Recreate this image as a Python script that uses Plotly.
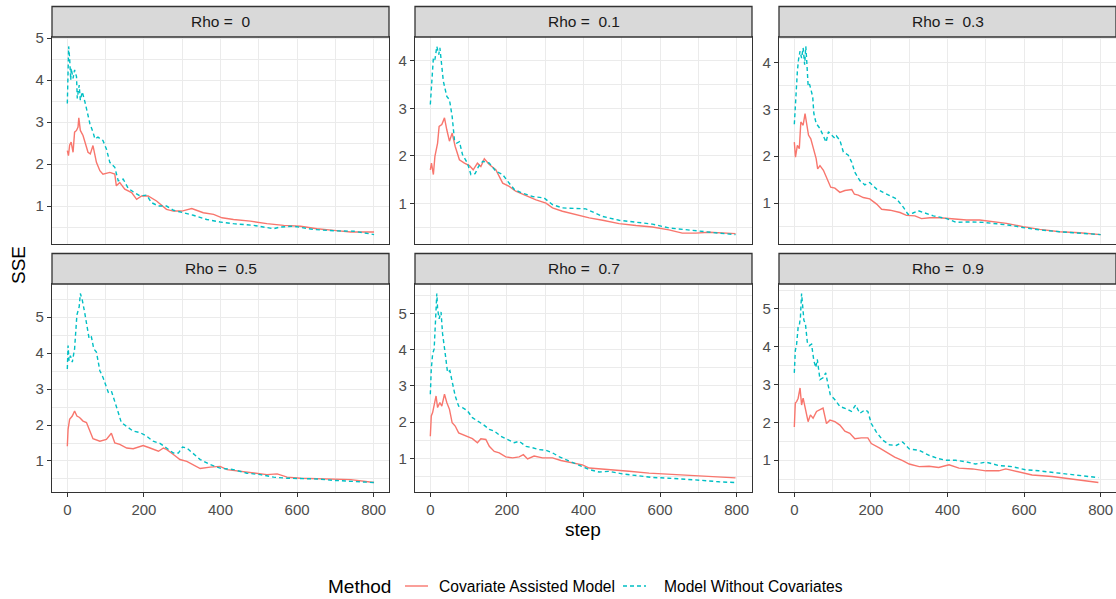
import plotly.graph_objects as go

# ---- data: SSE by step for each Rho, two methods ----
rho_labels = ["0", "0.1", "0.3", "0.5", "0.7", "0.9"]

# Rho = 0
cov_step_r0 = [0, 3, 6, 10, 15, 19, 24, 28, 30, 34, 41, 48, 54, 60, 67, 76, 85, 93, 102, 111, 124, 128, 137, 150,
               168, 181, 194, 211, 233, 259, 277, 299, 325, 355, 382, 404, 434, 478, 521, 565, 609, 652, 696, 740, 801]
cov_sse_r0 = [2.32, 2.2, 2.45, 2.52, 2.28, 2.76, 2.8, 2.88, 3.1, 2.8, 2.68, 2.45, 2.28, 2.24, 2.44, 2.04, 1.84, 1.76,
              1.78, 1.8, 1.76, 1.48, 1.56, 1.4, 1.32, 1.16, 1.24, 1.24, 1.12, 0.92, 0.88, 0.88, 0.94, 0.84, 0.8, 0.72,
              0.68, 0.64, 0.58, 0.54, 0.52, 0.46, 0.42, 0.38, 0.38]
nocov_step_r0 = [0, 2, 3.5, 6, 9, 10, 15, 19, 24, 26, 31, 34, 39, 46, 52, 59, 67, 72, 80, 93, 102, 111, 124, 133,
                 146, 159, 172, 190, 207, 220, 238, 259, 277, 303, 329, 364, 399, 434, 486, 539, 556, 591, 644, 696,
                 749, 801]
nocov_sse_r0 = [3.44, 4.36, 4.8, 4.52, 4.0, 4.28, 4.04, 4.24, 4.08, 3.56, 3.88, 3.52, 3.72, 3.48, 3.2, 2.96, 2.76,
                2.6, 2.64, 2.56, 2.36, 2.04, 1.92, 1.6, 1.64, 1.42, 1.34, 1.24, 1.26, 1.08, 1.0, 1.0, 0.9, 0.84, 0.78,
                0.68, 0.62, 0.58, 0.54, 0.46, 0.5, 0.52, 0.44, 0.41, 0.4, 0.32]

# Rho = 0.1
cov_step_r1 = [0, 3, 8, 12, 19, 23, 30, 37, 43, 50, 57, 65, 76, 89, 102, 112, 123, 132, 141, 154, 171, 189, 206,
               223, 250, 276, 302, 319, 345, 380, 415, 450, 493, 537, 580, 623, 658, 693, 728, 797]
cov_sse_r1 = [1.71, 1.85, 1.61, 1.99, 2.27, 2.62, 2.66, 2.8, 2.55, 2.31, 2.48, 2.2, 1.92, 1.85, 1.8, 1.71, 1.85,
              1.78, 1.94, 1.82, 1.71, 1.43, 1.36, 1.26, 1.17, 1.08, 1.01, 0.91, 0.84, 0.77, 0.7, 0.65, 0.58, 0.54,
              0.51, 0.45, 0.38, 0.38, 0.4, 0.37]
nocov_step_r1 = [0, 3, 8, 12, 17, 22, 25, 30, 34, 38, 43, 50, 57, 63, 69, 76, 84, 97, 106, 117, 126, 137, 154,
                 171, 189, 202, 220, 241, 267, 297, 319, 345, 380, 406, 450, 493, 537, 580, 623, 667, 710, 754, 797]
nocov_sse_r1 = [3.08, 3.53, 4.06, 4.02, 4.3, 4.13, 4.27, 3.88, 3.57, 3.43, 3.25, 3.18, 2.83, 2.34, 2.27, 2.3, 2.03,
                1.85, 1.61, 1.63, 1.78, 1.89, 1.85, 1.68, 1.61, 1.47, 1.29, 1.22, 1.15, 1.12, 0.98, 0.91, 0.89, 0.89,
                0.73, 0.65, 0.61, 0.57, 0.49, 0.45, 0.42, 0.38, 0.35]

# Rho = 0.3
cov_step_r3 = [0, 3, 8, 13, 17, 23, 28, 32, 37, 43, 50, 57, 61, 67, 76, 84, 95, 106, 119, 132, 150, 157, 167, 180,
               197, 215, 228, 250, 276, 293, 315, 332, 354, 380, 415, 450, 484, 519, 554, 597, 641, 693, 745, 800]
cov_sse_r3 = [2.3, 1.98, 2.23, 2.16, 2.73, 2.66, 2.91, 2.66, 2.45, 2.37, 2.16, 1.95, 1.73, 1.8, 1.7, 1.55, 1.34,
              1.32, 1.23, 1.27, 1.29, 1.19, 1.17, 1.12, 1.09, 0.98, 0.87, 0.85, 0.8, 0.74, 0.73, 0.67, 0.69, 0.69,
              0.67, 0.64, 0.64, 0.6, 0.57, 0.5, 0.44, 0.39, 0.37, 0.33]
nocov_step_r3 = [0, 2.5, 4.5, 8, 11, 15, 19, 23, 27, 30, 32, 36, 39, 43, 48, 51, 57, 67, 76, 83, 89, 97, 106, 110,
                 119, 128, 141, 150, 158, 171, 184, 197, 215, 232, 250, 267, 285, 297, 310, 323, 341, 363, 398, 423,
                 458, 493, 528, 563, 597, 641, 693, 745, 800]
nocov_sse_r3 = [2.68, 3.09, 3.52, 3.81, 4.06, 4.24, 4.09, 4.31, 3.95, 4.34, 4.09, 3.52, 3.56, 3.41, 3.27, 2.91,
                2.7, 2.59, 2.41, 2.3, 2.52, 2.45, 2.38, 2.43, 2.34, 2.09, 2.02, 1.87, 1.66, 1.48, 1.39, 1.44, 1.3,
                1.23, 1.16, 1.09, 0.91, 0.76, 0.79, 0.84, 0.79, 0.73, 0.67, 0.59, 0.6, 0.59, 0.56, 0.53, 0.48, 0.43,
                0.39, 0.36, 0.33]

# Rho = 0.5
cov_step_r5 = [0, 2, 6, 13, 19, 25, 32, 41, 50, 57, 67, 85, 102, 115, 124, 137, 155, 172, 198, 216, 238, 251, 259,
               277, 294, 312, 329, 347, 373, 399, 417, 452, 486, 521, 548, 574, 609, 653, 696, 740, 801]
cov_sse_r5 = [1.41, 1.88, 2.16, 2.25, 2.39, 2.25, 2.21, 2.11, 2.07, 1.88, 1.62, 1.55, 1.6, 1.77, 1.5, 1.46, 1.36,
              1.34, 1.43, 1.36, 1.27, 1.36, 1.32, 1.18, 1.04, 0.99, 0.9, 0.79, 0.83, 0.85, 0.76, 0.71, 0.66, 0.62,
              0.64, 0.55, 0.52, 0.51, 0.5, 0.48, 0.4]
nocov_step_r5 = [0, 2, 4.5, 8, 13, 19, 25, 31, 34, 39, 45, 52, 57, 63, 69, 76, 85, 93, 107, 115, 124, 133, 141, 155,
                 172, 190, 207, 224, 242, 259, 277, 290, 301, 312, 329, 347, 373, 399, 434, 469, 504, 539, 574, 609,
                 653, 696, 740, 801]
nocov_sse_r5 = [3.56, 4.21, 3.79, 3.93, 3.75, 4.12, 5.06, 5.29, 5.66, 5.48, 5.15, 4.73, 4.4, 4.45, 4.12, 4.03,
                3.51, 3.33, 2.91, 2.95, 2.67, 2.35, 2.07, 1.97, 1.83, 1.79, 1.69, 1.55, 1.49, 1.36, 1.22, 1.22, 1.39,
                1.36, 1.21, 1.04, 0.9, 0.8, 0.76, 0.66, 0.62, 0.55, 0.52, 0.52, 0.5, 0.46, 0.44, 0.4]

# Rho = 0.7
cov_step_r7 = [0, 2.5, 6, 10, 15, 19, 25, 30, 37, 43, 50, 57, 65, 74, 84, 97, 110, 123, 132, 145, 154, 167, 180,
               197, 215, 232, 243, 254, 271, 293, 319, 341, 363, 397, 415, 450, 484, 519, 571, 623, 676, 728, 797]
cov_sse_r7 = [1.61, 2.17, 2.26, 2.44, 2.72, 2.4, 2.54, 2.44, 2.77, 2.54, 2.35, 1.98, 1.89, 1.7, 1.66, 1.61, 1.54,
              1.43, 1.54, 1.52, 1.33, 1.19, 1.15, 1.04, 1.01, 1.04, 1.1, 0.98, 1.06, 1.01, 1.01, 0.94, 0.89, 0.82,
              0.73, 0.7, 0.69, 0.64, 0.59, 0.56, 0.54, 0.5, 0.46]
nocov_step_r7 = [0, 2.5, 6, 10, 13, 17, 19, 23, 28, 32, 39, 45, 51, 58, 65, 74, 84, 97, 110, 123, 137, 154, 167,
                 184, 202, 219, 232, 250, 267, 284, 302, 319, 337, 363, 389, 415, 441, 467, 501, 536, 580, 623, 667,
                 710, 754, 797]
nocov_sse_r7 = [2.77, 3.46, 3.88, 4.02, 4.67, 5.55, 5.13, 4.85, 5.04, 4.44, 3.88, 3.37, 3.42, 3.09, 2.72, 2.44,
                2.4, 2.31, 2.12, 2.03, 1.94, 1.8, 1.75, 1.61, 1.52, 1.43, 1.47, 1.33, 1.29, 1.24, 1.22, 1.15, 1.04,
                0.92, 0.8, 0.69, 0.62, 0.64, 0.57, 0.52, 0.47, 0.45, 0.43, 0.39, 0.35, 0.33]

# Rho = 0.9
cov_step_r9 = [0, 2.5, 6, 10, 15, 19, 23, 28, 36, 42, 49, 58, 67, 75, 84, 93, 106, 119, 132, 145, 158, 175, 192,
               201, 223, 240, 262, 283, 300, 326, 352, 377, 404, 430, 465, 500, 534, 552, 586, 621, 673, 725, 768,
               794]
cov_sse_r9 = [1.88, 2.51, 2.55, 2.64, 2.91, 2.46, 2.64, 2.38, 2.02, 2.2, 2.11, 2.29, 2.33, 2.38, 1.97, 2.06, 2.02,
              1.93, 1.77, 1.71, 1.57, 1.59, 1.59, 1.44, 1.32, 1.21, 1.08, 0.99, 0.9, 0.83, 0.84, 0.81, 0.88, 0.79,
              0.77, 0.72, 0.72, 0.77, 0.7, 0.61, 0.57, 0.5, 0.45, 0.41]
nocov_step_r9 = [0, 2.5, 6, 10, 13, 16, 19, 22, 25, 29, 34, 39, 45, 51, 56, 60, 67, 75, 82, 88, 94, 106, 119, 136,
                 149, 160, 171, 184, 192, 201, 214, 231, 248, 266, 283, 300, 326, 352, 377, 395, 421, 447, 473, 500,
                 534, 569, 603, 638, 673, 707, 742, 768, 794]
nocov_sse_r9 = [3.31, 3.89, 4.07, 4.52, 4.56, 4.79, 5.41, 5.14, 4.7, 4.61, 4.12, 4.03, 4.07, 3.63, 3.45, 3.67,
                3.13, 3.18, 3.31, 3.0, 2.73, 2.6, 2.42, 2.36, 2.29, 2.46, 2.24, 2.33, 2.29, 1.97, 1.75, 1.53, 1.41,
                1.39, 1.48, 1.3, 1.26, 1.13, 1.04, 1.0, 1.0, 0.96, 0.9, 0.95, 0.86, 0.83, 0.75, 0.72, 0.68, 0.65,
                0.61, 0.57, 0.54]

panels = [
    (cov_step_r0, cov_sse_r0, nocov_step_r0, nocov_sse_r0),
    (cov_step_r1, cov_sse_r1, nocov_step_r1, nocov_sse_r1),
    (cov_step_r3, cov_sse_r3, nocov_step_r3, nocov_sse_r3),
    (cov_step_r5, cov_sse_r5, nocov_step_r5, nocov_sse_r5),
    (cov_step_r7, cov_sse_r7, nocov_step_r7, nocov_sse_r7),
    (cov_step_r9, cov_sse_r9, nocov_step_r9, nocov_sse_r9),
]
method_names = ["Covariate Assisted Model", "Model Without Covariates"]
x_ticks = [0, 200, 400, 600, 800]

# ---- styling ----
W, H = 1116, 599
FONT = "Liberation Sans, Arial, sans-serif"
RED = "#F8766D"
TEAL = "#00BFC4"
BORDER = "#333333"
GRID = "#EBEBEB"
STRIP_FILL = "#D9D9D9"
DASH = "4px,3px"

# panel boxes in pixels (left, right) and (top, bottom)
col_px = [(52, 389), (415, 752), (779, 1116)]
row_px = [(37, 244), (284, 492)]
strip_h = 30.5


def px_x(v):
    return v / W


def px_y(v):
    return 1 - v / H


fig = go.Figure()
layout = dict(
    width=W, height=H,
    margin=dict(l=0, r=0, t=0, b=0),
    paper_bgcolor="white", plot_bgcolor="white",
    showlegend=False,
    template="none",
    font=dict(family=FONT, size=15, color="#4D4D4D"),
)
shapes = []
annotations = []

for i, (cs, cv, ns, nv) in enumerate(panels):
    r, c = divmod(i, 3)
    n = i + 1
    xa = "x" if n == 1 else f"x{n}"
    ya = "y" if n == 1 else f"y{n}"
    fig.add_trace(go.Scatter(x=cs, y=cv, mode="lines", name=method_names[0],
                             line=dict(color=RED, width=1.4), xaxis=xa, yaxis=ya))
    fig.add_trace(go.Scatter(x=ns, y=nv, mode="lines", name=method_names[1],
                             line=dict(color=TEAL, width=1.4, dash=DASH), xaxis=xa, yaxis=ya))

    lo = min(min(cv), min(nv))
    hi = max(max(cv), max(nv))
    pad = 0.05 * (hi - lo)

    x0p, x1p = col_px[c]
    y0p, y1p = row_px[r]
    bottom_row = r == 1
    xkey = "xaxis" if n == 1 else f"xaxis{n}"
    ykey = "yaxis" if n == 1 else f"yaxis{n}"
    layout[xkey] = dict(
        domain=[px_x(x0p), px_x(x1p)], anchor=ya, range=[-40, 840],
        tickvals=x_ticks, showticklabels=bottom_row,
        ticks="outside" if bottom_row else "", ticklen=4, tickwidth=1.1, tickcolor=BORDER,
        tickfont=dict(size=15, color="#4D4D4D", family=FONT),
        showgrid=True, gridcolor=GRID, gridwidth=1.2,
        minor=dict(dtick=100, tick0=0, showgrid=True, gridcolor=GRID, gridwidth=0.6, ticks=""),
        showline=True, linecolor=BORDER, linewidth=1.3, mirror=True,
        zeroline=False, automargin=False, fixedrange=True,
    )
    layout[ykey] = dict(
        domain=[px_y(y1p), px_y(y0p)], anchor=xa, range=[lo - pad, hi + pad],
        dtick=1, tick0=0,
        ticks="outside", ticklen=4, tickwidth=1.1, tickcolor=BORDER,
        tickfont=dict(size=15, color="#4D4D4D", family=FONT),
        showgrid=True, gridcolor=GRID, gridwidth=1.2,
        minor=dict(dtick=0.5, tick0=0, showgrid=True, gridcolor=GRID, gridwidth=0.6, ticks=""),
        showline=True, linecolor=BORDER, linewidth=1.3, mirror=True,
        zeroline=False, automargin=False, fixedrange=True,
    )

    # facet strip
    st_top = y0p - strip_h
    shapes.append(dict(type="rect", xref="paper", yref="paper",
                       x0=px_x(x0p), x1=px_x(x1p), y0=px_y(y0p), y1=px_y(st_top),
                       fillcolor=STRIP_FILL, line=dict(color=BORDER, width=1.3), layer="above"))
    annotations.append(dict(xref="paper", yref="paper", x=px_x((x0p + x1p) / 2),
                            y=px_y((st_top + y0p) / 2), text="Rho = \u00a0" + rho_labels[i],
                            showarrow=False, xanchor="center", yanchor="middle",
                            font=dict(size=15.5, color="#1A1A1A", family=FONT)))

# axis titles
annotations.append(dict(xref="paper", yref="paper", x=px_x(583), y=px_y(529), text="step",
                        showarrow=False, xanchor="center", yanchor="middle",
                        font=dict(size=19, color="black", family=FONT)))
annotations.append(dict(xref="paper", yref="paper", x=px_x(18), y=px_y(265), text="SSE",
                        showarrow=False, xanchor="center", yanchor="middle", textangle=-90,
                        font=dict(size=19, color="black", family=FONT)))

# legend
leg_y = 586
annotations.append(dict(xref="paper", yref="paper", x=px_x(326), y=px_y(leg_y), text="Method",
                        showarrow=False, xanchor="left", yanchor="middle",
                        font=dict(size=19, color="black", family=FONT)))
shapes.append(dict(type="line", xref="paper", yref="paper", x0=px_x(405), x1=px_x(428),
                   y0=px_y(leg_y), y1=px_y(leg_y), line=dict(color=RED, width=1.4)))
annotations.append(dict(xref="paper", yref="paper", x=px_x(437), y=px_y(leg_y), text=method_names[0],
                        showarrow=False, xanchor="left", yanchor="middle",
                        font=dict(size=15.6, color="black", family=FONT)))
shapes.append(dict(type="line", xref="paper", yref="paper", x0=px_x(623), x1=px_x(646),
                   y0=px_y(leg_y), y1=px_y(leg_y), line=dict(color=TEAL, width=1.4, dash=DASH)))
annotations.append(dict(xref="paper", yref="paper", x=px_x(662), y=px_y(leg_y), text=method_names[1],
                        showarrow=False, xanchor="left", yanchor="middle",
                        font=dict(size=15.6, color="black", family=FONT)))

layout["shapes"] = shapes
layout["annotations"] = annotations
fig.update_layout(**layout)
fig.write_html("out.html", config={"displayModeBar": False})
